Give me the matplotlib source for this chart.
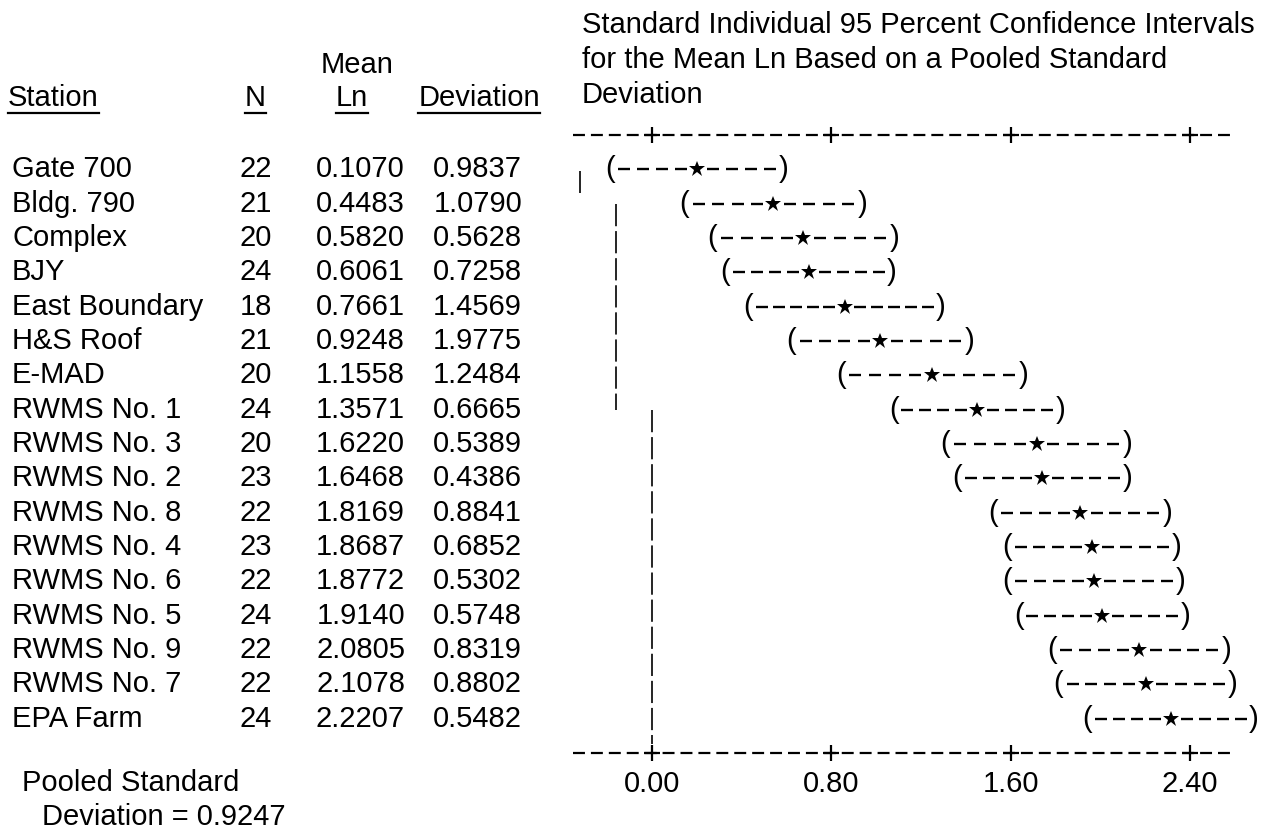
import numpy as np
import matplotlib
matplotlib.use("Agg")
import matplotlib.pyplot as plt
from matplotlib import transforms
from matplotlib.lines import Line2D

stations = ["Gate 700", "Bldg. 790", "Complex", "BJY", "East Boundary", "H&S Roof",
            "E-MAD", "RWMS No. 1", "RWMS No. 3", "RWMS No. 2", "RWMS No. 8",
            "RWMS No. 4", "RWMS No. 6", "RWMS No. 5", "RWMS No. 9", "RWMS No. 7",
            "EPA Farm"]
n_obs = [22, 21, 20, 24, 18, 21, 20, 24, 20, 23, 22, 23, 22, 24, 22, 22, 24]
mean_ln = [0.1070, 0.4483, 0.5820, 0.6061, 0.7661, 0.9248, 1.1558, 1.3571, 1.6220,
           1.6468, 1.8169, 1.8687, 1.8772, 1.9140, 2.0805, 2.1078, 2.2207]
std_dev = [0.9837, 1.0790, 0.5628, 0.7258, 1.4569, 1.9775, 1.2484, 0.6665, 0.5389,
           0.4386, 0.8841, 0.6852, 0.5302, 0.5748, 0.8319, 0.8802, 0.5482]
pooled_sd = 0.9247
t_crit = 1.967  # t(0.975) with 355 df

tick_vals = [0.0, 0.8, 1.6, 2.4]
tick_labels = ["0.00", "0.80", "1.60", "2.40"]

# hand drawn grouping bars: (x value, first row, last row)
groups = [(-0.32, 0.05, 0.7), (-0.16, 1.0, 7.0), (0.0, 7.0, 16.75)]

W, H = 1271, 831
plt.rcParams['font.family'] = ['Liberation Sans', 'DejaVu Sans']
plt.rcParams['lines.scale_dashes'] = False
FS = 21

fig = plt.figure(figsize=(W / 100, H / 100), dpi=100)


def fx(px):
    return px / W


def fy(py):
    return 1 - py / H


ax = fig.add_axes([fx(573), fy(753), (1232 - 573) / W, (753 - 135) / H])
ax.set_xlim(-0.352, 2.587)
ax.set_ylim(17, -1)
for s in ax.spines.values():
    s.set_visible(False)
ax.set_yticks([])
ax.set_xticks(tick_vals, tick_labels)
ax.tick_params(axis='x', length=0, pad=12, labelsize=FS)

# dashed scale lines with "+" ticks, top and bottom
xl = ax.get_xlim()
for yy in ax.get_ylim():
    ax.plot(xl, [yy, yy], color='k', lw=1.6, dashes=(8.6, 4.3), clip_on=False)
    ax.plot(tick_vals, [yy] * len(tick_vals), ls='none', marker='+', ms=11,
            mew=1.6, color='k', clip_on=False)

# the printout puts the intervals about one character cell to the right
shift = transforms.ScaledTranslation(0.21, 0, fig.dpi_scale_trans)
trans = ax.transData + shift
px_per_unit = ax.transData.transform((1, 0))[0] - ax.transData.transform((0, 0))[0]


def dash_run(a, b, y):
    # typewriter style dashes filling the gap a..b
    k = max(3, int(round((b - a) * px_per_unit / 18.0)))
    xs = a + (np.arange(k) + 0.5) * (b - a) / k
    ax.plot(xs, [y] * k, ls='none', marker='_', ms=9, mew=1.7, color='k',
            transform=trans, clip_on=False)


for i, (m, n) in enumerate(zip(mean_ln, n_obs)):
    h = t_crit * pooled_sd / np.sqrt(n)
    lo, hi = m - h, m + h
    dash_run(lo + 0.02, m - 0.03, i)
    dash_run(m + 0.03, hi - 0.02, i)
    ax.plot([m], [i], marker='*', ms=12, color='k', mew=0, transform=trans,
            clip_on=False)
    ax.text(lo, i, "(", ha='center', va='center', fontsize=FS, transform=trans)
    ax.text(hi, i, ")", ha='center', va='center', fontsize=FS, transform=trans)

for gx, r0, r1 in groups:
    ax.plot([gx, gx], [r0, r1], color='k', lw=1.2, dashes=(16, 3.5))

# table on the left, rows share the y scale of the interval panel
rows = transforms.blended_transform_factory(fig.transFigure, ax.transData)
for i in range(len(stations)):
    ax.text(fx(12), i, stations[i], ha='left', va='center', fontsize=FS, transform=rows)
    ax.text(fx(256), i, str(n_obs[i]), ha='center', va='center', fontsize=FS, transform=rows)
    ax.text(fx(405), i, f"{mean_ln[i]:.4f}", ha='right', va='center', fontsize=FS, transform=rows)
    ax.text(fx(522), i, f"{std_dev[i]:.4f}", ha='right', va='center', fontsize=FS, transform=rows)

fig.text(fx(357), fy(65), "Mean", ha='center', va='center', fontsize=FS)
heads = [
    fig.text(fx(8), fy(98), "Station", ha='left', va='center', fontsize=FS),
    fig.text(fx(255), fy(98), "N", ha='center', va='center', fontsize=FS),
    fig.text(fx(352), fy(98), "Ln", ha='center', va='center', fontsize=FS),
    fig.text(fx(540), fy(98), "Deviation", ha='right', va='center', fontsize=FS),
]

title = ["Standard Individual 95 Percent Confidence Intervals",
         "for the Mean Ln Based on a Pooled Standard",
         "Deviation"]
for k, line in enumerate(title):
    fig.text(fx(582), fy(25 + 35 * k), line, ha='left', va='center', fontsize=FS)

fig.text(fx(22), fy(783), "Pooled Standard", ha='left', va='center', fontsize=FS)
fig.text(fx(42), fy(817), f"Deviation = {pooled_sd:.4f}", ha='left', va='center', fontsize=FS)

# underline the column headers
fig.canvas.draw()
for t in heads:
    bb = t.get_window_extent()
    fig.add_artist(Line2D([bb.x0 / W, bb.x1 / W], [fy(113), fy(113)],
                          transform=fig.transFigure, color='k', lw=1.6))

fig.savefig("out.png", dpi=100)
